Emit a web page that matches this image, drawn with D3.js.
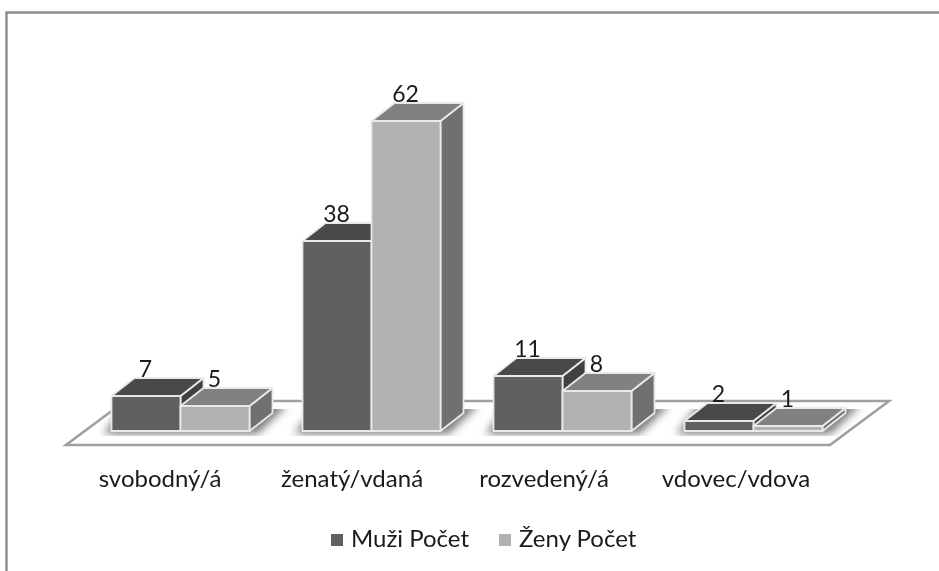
<!DOCTYPE html>
<html><head><meta charset="utf-8">
<script src="https://cdn.jsdelivr.net/npm/d3@7"></script>
<style>html,body{margin:0;padding:0;background:#fff}svg{display:block}</style>
</head><body><div id="c"></div>
<script>
const categories = ["svobodný/á","ženatý/vdaná","rozvedený/á","vdovec/vdova"];
const muzi = [7,38,11,2];
const zeny = [5,62,8,1];
const seriesNames = ["Muži Počet","Ženy Počet"];

const W=939,H=571,dx=23,dy=18,FONT="Lato, 'Open Sans', sans-serif";
const x=d3.scaleBand().domain(categories).range([66,830]);
const xLabel=d3.scaleBand().domain(categories).range([64,832]);
const y=d3.scaleLinear().domain([0,62]).range([431,121]);
const barW=69;
const svg=d3.select("#c").append("svg").attr("width",W).attr("height",H);
const defs=svg.append("defs");
defs.append("filter").attr("id","soft").attr("filterUnits","userSpaceOnUse").attr("x",0).attr("y",0).attr("width",W).attr("height",H)
  .append("feGaussianBlur").attr("stdDeviation",0.5);
defs.append("filter").attr("id","sh").attr("filterUnits","userSpaceOnUse").attr("x",0).attr("y",380).attr("width",W).attr("height",80)
  .append("feGaussianBlur").attr("stdDeviation",4);

const root=svg.append("g").attr("filter","url(#soft)");
// frame
root.append("path").attr("d","M6.5,571V12.5H939").attr("fill","none").attr("stroke","#8c8c8c").attr("stroke-width",2.4);

// floor
const fl=[[x.range()[0],445],[x.range()[1],445],[x.range()[1]+59,401],[x.range()[0]+59,401]];
root.append("polygon").attr("points",fl.join(" ")).attr("fill","#fff").attr("stroke","#a0a0a0").attr("stroke-width",2.6);

// shadows (blurred footprints, cut off along a straight upper edge)
const shadowClip=root.append("svg").attr("x",60).attr("y",409).attr("width",830).attr("height",27).attr("viewBox","60 409 830 27");
categories.forEach(c=>{
  const x0=x(c)+x.bandwidth()/2+19-barW;
  shadowClip.append("polygon").attr("filter","url(#sh)")
   .attr("points",[[x0-8,434],[x0+2*barW+8,434],[x0+2*barW+dx+16,404],[x0+dx-8,404]].join(" "))
   .attr("fill","#7a7a7a");
});

const pal=[{front:"#606060",top:"#484848",side:"#414141"},{front:"#b2b2b2",top:"#818181",side:"#6f6f6f"}];
const bars=root.append("g");
const all=[];
categories.forEach((c,i)=>{all.push({c,v:muzi[i],s:0});all.push({c,v:zeny[i],s:1});});
const xb=d=>x(d.c)+x.bandwidth()/2+19-barW+d.s*barW;
all.forEach(d=>{
  const g=bars.append("g").attr("stroke","#e9e9e9").attr("stroke-width",1.8).attr("stroke-linejoin","round");
  const a=xb(d),b=a+barW,t=y(d.v),z=y(0),p=pal[d.s];
  g.append("polygon").attr("points",[[b,z],[b+dx,z-dy],[b+dx,t-dy],[b,t]].join(" ")).attr("fill",p.side);
  g.append("polygon").attr("points",[[a,t],[b,t],[b+dx,t-dy],[a+dx,t-dy]].join(" ")).attr("fill",p.top);
  g.append("rect").attr("x",a).attr("y",t).attr("width",barW).attr("height",z-t).attr("fill",p.front);
});
// value labels
root.append("g").selectAll("text").data(all).join("text")
 .attr("x",d=>xb(d)+barW/2-0.5).attr("y",d=>y(d.v)-19.5)
 .attr("text-anchor","middle").attr("font-family",FONT).attr("font-size",23).attr("fill","#1a1a1a")
 .text(d=>d.v);
// category labels
root.append("g").selectAll("text").data(categories).join("text")
 .attr("x",c=>xLabel(c)+xLabel.bandwidth()/2).attr("y",487)
 .attr("text-anchor","middle").attr("font-family",FONT).attr("font-size",24).attr("fill","#1a1a1a")
 .text(c=>c);
// legend
const lx=d3.scalePoint().domain(seriesNames).range([331,499]);
const lg=root.append("g").selectAll("g").data(seriesNames).join("g").attr("transform",d=>`translate(${lx(d)},0)`);
lg.append("rect").attr("y",534).attr("width",12).attr("height",12).attr("fill",(d,i)=>i?"#b2b2b2":"#606060");
lg.append("text").attr("x",20).attr("y",547).attr("font-family",FONT).attr("font-size",24).attr("fill","#1a1a1a").text(d=>d);
</script></body></html>
